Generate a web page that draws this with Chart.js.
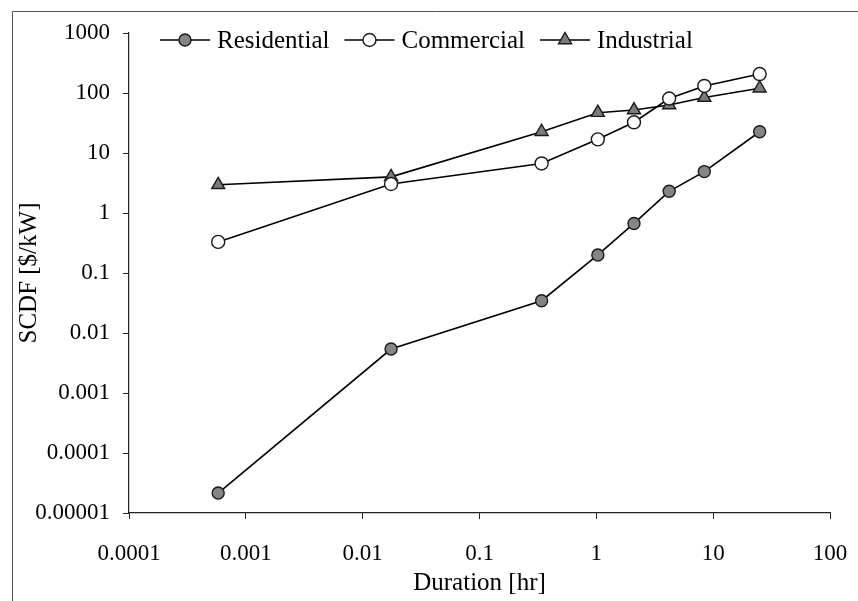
<!DOCTYPE html>
<html>
<head>
<meta charset="utf-8">
<title>SCDF</title>
<script src="https://cdn.jsdelivr.net/npm/chart.js"></script>
<style>
  html, body { margin: 0; padding: 0; background: #fff; }
  canvas { display: block; }
</style>
</head>
<body>
<canvas id="scdfChart" width="858" height="601"></canvas>
<script>
// outage durations [hr]
const durations = [0.00058, 0.0175, 0.34, 1.03, 2.1, 4.2, 8.4, 25];

// sector customer damage functions [$/kW]
const residential = [0.0000215, 0.0054, 0.0345, 0.2, 0.67, 2.3, 4.9, 22.6];
const commercial = [0.33, 3.04, 6.7, 16.9, 32.5, 81, 131, 207];
const industrial = [2.95, 4.0, 22.6, 47, 52, 63, 84, 120];

const seriesNames = ['Residential', 'Commercial', 'Industrial'];

const xTicks = [0.0001, 0.001, 0.01, 0.1, 1, 10, 100];
const xTickLabels = ['0.0001', '0.001', '0.01', '0.1', '1', '10', '100'];
const yTicks = [0.00001, 0.0001, 0.001, 0.01, 0.1, 1, 10, 100, 1000];
const yTickLabels = ['0.00001', '0.0001', '0.001', '0.01', '0.1', '1', '10', '100', '1000'];

const FONT = '"Liberation Serif", "Times New Roman", serif';

function toPoints(values) {
    return durations.map((d, i) => ({ x: d, y: values[i] }));
}

function series(label, values, style, fill, radius) {
    return {
        label: label,
        data: toPoints(values),
        showLine: true,
        borderColor: '#000',
        borderWidth: 1.6,
        pointStyle: style,
        pointRadius: radius,
        pointBackgroundColor: fill,
        pointBorderColor: '#1a1a1a',
        pointBorderWidth: 1.4
    };
}

function drawMarker(ctx, ds, x, y) {
    const r = ds.pointRadius;
    ctx.save();
    ctx.fillStyle = ds.pointBackgroundColor;
    ctx.strokeStyle = ds.pointBorderColor;
    ctx.lineWidth = ds.pointBorderWidth;
    ctx.beginPath();
    if (ds.pointStyle === 'triangle') {
        ctx.moveTo(x, y - r);
        ctx.lineTo(x + r * Math.cos(Math.PI / 6), y + r / 2);
        ctx.lineTo(x - r * Math.cos(Math.PI / 6), y + r / 2);
        ctx.closePath();
    } else {
        ctx.arc(x, y, r, 0, Math.PI * 2);
    }
    ctx.fill();
    ctx.stroke();
    ctx.restore();
}

// page frame: thin lines along the top and left edges
const framePlugin = {
    id: 'frame',
    beforeDraw(chart) {
        const ctx = chart.ctx;
        ctx.save();
        ctx.fillStyle = '#fff';
        ctx.fillRect(0, 0, chart.width, chart.height);
        ctx.strokeStyle = '#555';
        ctx.lineWidth = 1;
        ctx.beginPath();
        ctx.moveTo(12.5, chart.height);
        ctx.lineTo(12.5, 11.5);
        ctx.lineTo(chart.width, 11.5);
        ctx.stroke();
        ctx.restore();
    }
};

// legend drawn as line-marker-line followed by the label
const lineLegend = {
    id: 'lineLegend',
    afterDraw(chart) {
        const ctx = chart.ctx;
        let x = 160;
        const y = 40;
        chart.data.datasets.forEach(ds => {
            ctx.save();
            ctx.strokeStyle = '#000';
            ctx.lineWidth = 1.6;
            ctx.beginPath();
            ctx.moveTo(x, y);
            ctx.lineTo(x + 50, y);
            ctx.stroke();
            drawMarker(ctx, ds, x + 25, y);
            ctx.font = 'normal 25px ' + FONT;
            ctx.textAlign = 'left';
            ctx.textBaseline = 'middle';
            ctx.fillStyle = '#000';
            ctx.fillText(ds.label, x + 57, y + 1);
            x += 57 + ctx.measureText(ds.label).width + 15;
            ctx.restore();
        });
    }
};

const ctx = document.getElementById('scdfChart').getContext('2d');
const scdfChart = new Chart(ctx, {
    type: 'scatter',
    data: {
        datasets: [
            series(seriesNames[0], residential, 'circle', '#858585', 6),
            series(seriesNames[1], commercial, 'circle', '#ffffff', 6.5),
            series(seriesNames[2], industrial, 'triangle', '#7c7c7c', 7.5)
        ]
    },
    options: {
        responsive: false,
        animation: false,
        layout: { padding: { top: 33, right: 28, left: 0, bottom: 0 } },
        plugins: {
            legend: { display: false },
            tooltip: { enabled: false }
        },
        scales: {
            x: {
                type: 'logarithmic',
                min: 0.0001,
                max: 100,
                afterBuildTicks: s => { s.ticks = xTicks.map(v => ({ value: v })); },
                afterFit: s => {
                    s.height = 88;
                    s.paddingLeft = 0;
                    s.paddingRight = 0;
                },
                border: { display: true, color: '#222', width: 1.2 },
                grid: { drawOnChartArea: false, drawTicks: true, tickLength: 6, color: '#222' },
                ticks: {
                    color: '#000',
                    padding: 21,
                    maxRotation: 0,
                    autoSkip: false,
                    font: { family: FONT, size: 23 },
                    callback: (v, i) => xTickLabels[i]
                },
                title: {
                    display: true,
                    text: 'Duration [hr]',
                    color: '#000',
                    font: { family: FONT, size: 25 },
                    padding: { top: 0, bottom: 3 }
                }
            },
            y: {
                type: 'logarithmic',
                min: 0.00001,
                max: 1000,
                afterBuildTicks: s => { s.ticks = yTicks.map(v => ({ value: v })); },
                afterFit: s => {
                    s.width = 129;
                    s.paddingTop = 0;
                    s.paddingBottom = 0;
                },
                border: { display: true, color: '#222', width: 1.2 },
                grid: { drawOnChartArea: false, drawTicks: true, tickLength: 6, color: '#222' },
                ticks: {
                    color: '#000',
                    padding: 13,
                    autoSkip: false,
                    font: { family: FONT, size: 23 },
                    callback: (v, i) => yTickLabels[i]
                },
                title: {
                    display: true,
                    text: 'SCDF [$/kW]',
                    color: '#000',
                    font: { family: FONT, size: 25 },
                    padding: { top: 14, bottom: 0 }
                }
            }
        }
    },
    plugins: [framePlugin, lineLegend]
});
</script>
</body>
</html>
